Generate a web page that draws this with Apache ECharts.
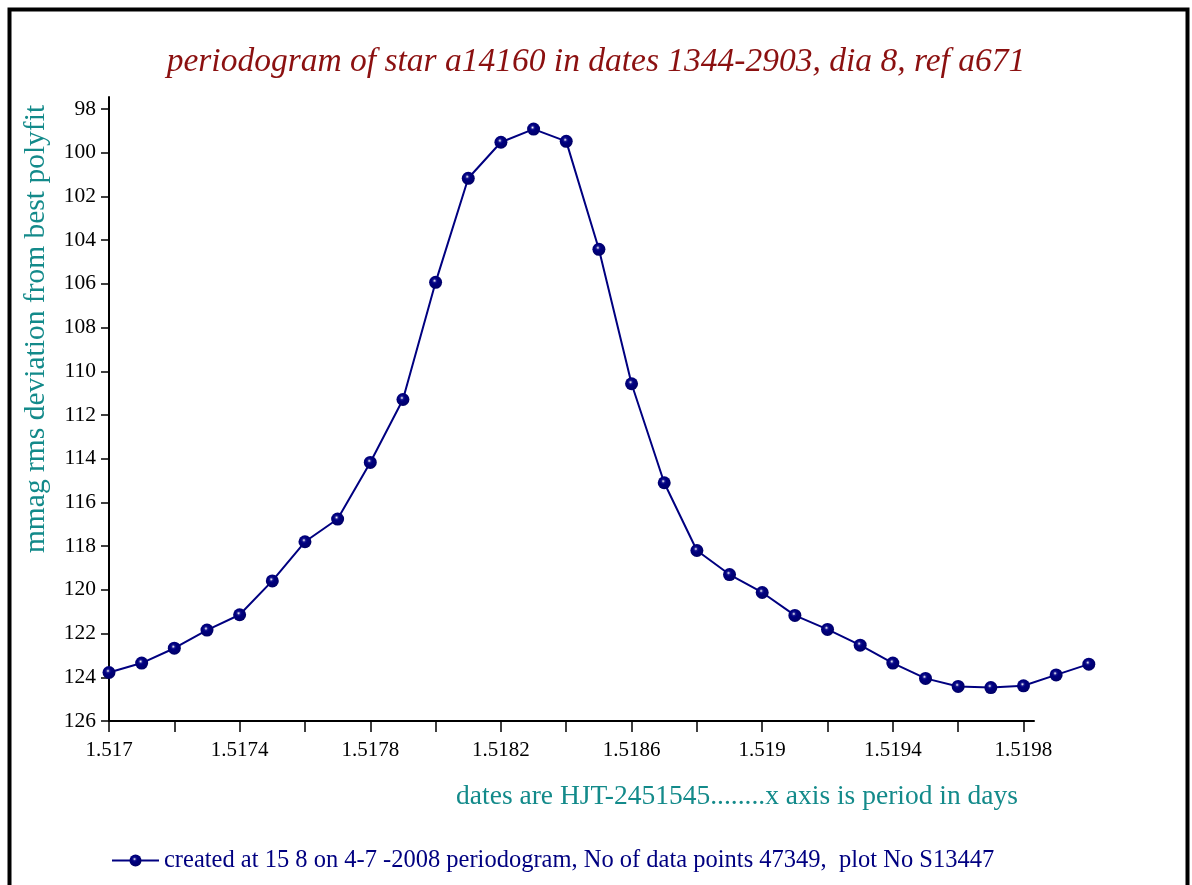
<!DOCTYPE html>
<html>
<head>
<meta charset="utf-8">
<script src="https://cdn.jsdelivr.net/npm/echarts@6/dist/echarts.min.js"></script>
<style>
  html, body { margin: 0; padding: 0; background: #fff; }
  #chart { width: 1192px; height: 885px; }
</style>
</head>
<body>
<div id="chart"></div>
<script>
// period in days
var periods = [1.5170, 1.5171, 1.5172, 1.5173, 1.5174, 1.5175, 1.5176, 1.5177, 1.5178, 1.5179,
               1.5180, 1.5181, 1.5182, 1.5183, 1.5184, 1.5185, 1.5186, 1.5187, 1.5188, 1.5189,
               1.5190, 1.5191, 1.5192, 1.5193, 1.5194, 1.5195, 1.5196, 1.5197, 1.5198, 1.5199, 1.5200];
// mmag rms deviation
var rmsDev = [123.78, 123.35, 122.67, 121.84, 121.14, 119.59, 117.80, 116.76, 114.17, 111.29,
              105.93, 101.17, 99.52, 98.92, 99.48, 104.42, 110.57, 115.10, 118.20, 119.30,
              120.12, 121.17, 121.81, 122.53, 123.35, 124.05, 124.42, 124.47, 124.39, 123.89, 123.40];
var titleText = 'periodogram of star a14160 in dates 1344-2903, dia 8, ref a671';
var yName = 'mmag rms deviation from best polyfit';
var xName = 'dates are HJT-2451545........x axis is period in days';
var seriesName = 'created at 15 8 on 4-7 -2008 periodogram, No of data points 47349,  plot No S13447';

var serif = '"Liberation Serif", "DejaVu Serif", serif';
var pts = periods.map(function (p, i) { return [p, rmsDev[i]]; });

// the old plot: axis lines run a bit past the last tick, the curve runs
// past the end of the x axis. Three stacked grids with one common scale:
// 0 = axis lines, 1 = ticks + labels, 2 = the series
var xMin = 1.517, xTickMax = 1.5198, dataMax = 1.5200;
var W = 1192, gLeft = 109, gTop = 109, gBottom = 164;
var xPx = 32.66 / 0.0001;           // px per day
var yPx = 21.85;                    // px per mmag
var lineXMax = xTickMax + 10.5 / xPx;
var lineYMin = 98 - 12 / yPx;
function rightFor(max) { return W - gLeft - xPx * (max - xMin); }

var chart = echarts.init(document.getElementById('chart'));
chart.setOption({
  backgroundColor: '#fff',
  animation: false,
  title: {
    text: titleText,
    left: 'center',
    top: 40,
    textStyle: { fontFamily: serif, fontStyle: 'italic', fontWeight: 'normal', fontSize: 33.5, color: '#8b1010' }
  },
  legend: {
    left: 106,
    bottom: 7,
    itemWidth: 47,
    itemHeight: 15,
    itemGap: 5,
    textStyle: { fontFamily: serif, fontSize: 24.5, color: '#000080' },
    data: [seriesName]
  },
  grid: [
    { left: gLeft, top: gTop - 12, right: rightFor(lineXMax), bottom: gBottom },
    { left: gLeft, top: gTop, right: rightFor(xTickMax), bottom: gBottom },
    { left: gLeft, top: gTop, right: rightFor(dataMax), bottom: gBottom }
  ],
  xAxis: [{
    type: 'value', gridIndex: 0, min: xMin, max: lineXMax,
    splitLine: { show: false },
    axisLine: { lineStyle: { color: '#000', width: 2 } },
    axisTick: { show: false },
    axisLabel: { show: false }
  }, {
    type: 'value', gridIndex: 1, min: xMin, max: xTickMax, interval: 0.0002,
    splitLine: { show: false },
    axisLine: { show: false },
    axisTick: { length: 11, lineStyle: { color: '#000', width: 1.5 } },
    axisLabel: {
      margin: 19,
      fontFamily: serif, fontSize: 21, color: '#000',
      formatter: function (v) {
        var k = Math.round(v * 10000) - 15170;
        if (k % 4 !== 0) return '';
        return parseFloat(v.toFixed(4)).toString();
      }
    }
  }, {
    type: 'value', gridIndex: 2, min: xMin, max: dataMax, show: false,
    splitLine: { show: false }
  }],
  yAxis: [{
    type: 'value', gridIndex: 0, inverse: true, min: lineYMin, max: 126,
    splitLine: { show: false },
    axisLine: { lineStyle: { color: '#000', width: 2 } },
    axisTick: { show: false },
    axisLabel: { show: false }
  }, {
    type: 'value', gridIndex: 1, inverse: true, min: 98, max: 126, interval: 2,
    splitLine: { show: false },
    axisLine: { show: false },
    axisTick: { length: 8, lineStyle: { color: '#000', width: 1.5 } },
    axisLabel: { margin: 13, fontFamily: serif, fontSize: 21.5, color: '#000' }
  }, {
    type: 'value', gridIndex: 2, inverse: true, min: 98, max: 126, show: false,
    splitLine: { show: false }
  }],
  graphic: [
    {
      type: 'rect',
      shape: { x: 9.5, y: 9.5, width: 1178, height: 900 },
      style: { fill: 'none', stroke: '#000', lineWidth: 4 },
      silent: true
    },
    {
      type: 'text',
      x: 36, y: 329,
      rotation: Math.PI / 2,
      style: {
        text: yName, fill: '#138a8a',
        font: '29.5px ' + serif,
        align: 'center', verticalAlign: 'middle'
      }
    },
    {
      type: 'text',
      x: 1018, y: 797,
      style: {
        text: xName, fill: '#138a8a',
        font: '27.5px ' + serif,
        align: 'right', verticalAlign: 'middle'
      }
    }
  ],
  series: [{
    name: seriesName,
    type: 'line',
    xAxisIndex: 2,
    yAxisIndex: 2,
    data: pts,
    clip: false,
    symbol: 'circle',
    symbolSize: 13,
    lineStyle: { color: '#000080', width: 2 },
    itemStyle: {
      color: new echarts.graphic.RadialGradient(0.42, 0.38, 0.6, [
        { offset: 0, color: '#ffffff' },
        { offset: 0.22, color: '#1a1a90' },
        { offset: 0.4, color: '#000080' },
        { offset: 1, color: '#000068' }
      ]),
      borderWidth: 0
    }
  }]
});
</script>
</body>
</html>
